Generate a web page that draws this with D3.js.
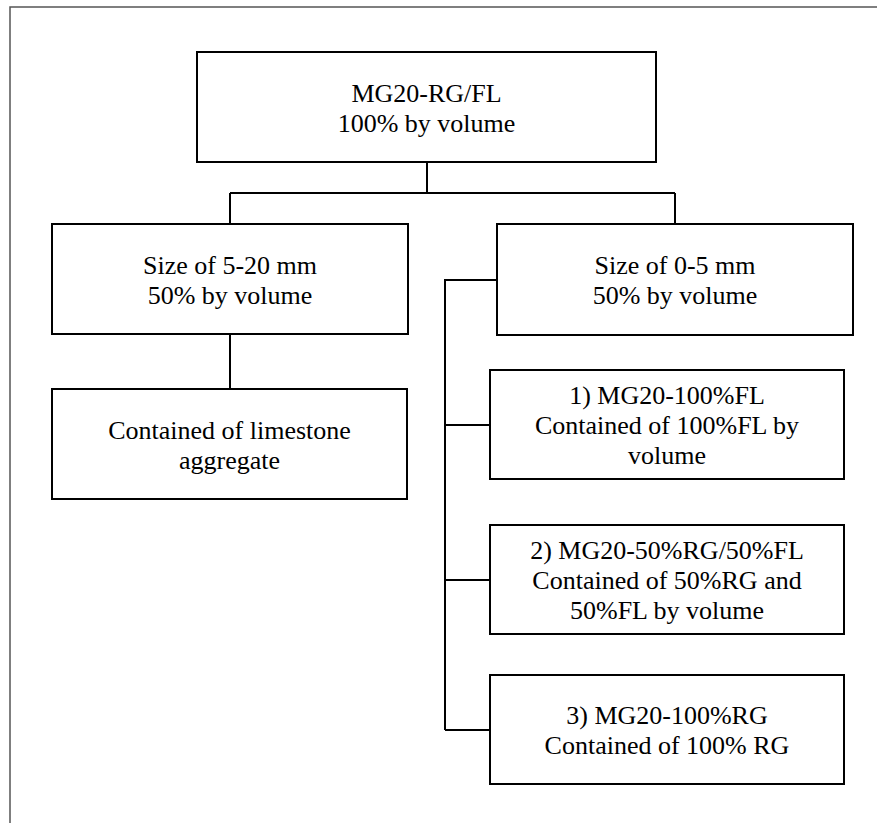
<!DOCTYPE html>
<html>
<head>
<meta charset="utf-8">
<script src="https://cdn.jsdelivr.net/npm/d3@7"></script>
<style>
  html, body { margin: 0; padding: 0; background: #fff; }
  svg { display: block; }
</style>
</head>
<body>
<script>
// ---- Data (labels only) ----
const rootLabel = ["MG20-RG/FL", "100% by volume"];
const sizeFractions = [
  ["Size of 5-20 mm", "50% by volume"],
  ["Size of 0-5 mm", "50% by volume"]
];
const coarseContents = [
  ["Contained of limestone", "aggregate"]
];
const fineMixes = [
  ["1) MG20-100%FL", "Contained of 100%FL by", "volume"],
  ["2) MG20-50%RG/50%FL", "Contained of 50%RG and", "50%FL by volume"],
  ["3) MG20-100%RG", "Contained of 100% RG"]
];

// ---- Layout ----
const W = 877, H = 823;
const svg = d3.select("body").append("svg").attr("width", W).attr("height", H);

// outer frame (extends beyond right/bottom edges as in the reference)
svg.append("rect")
  .attr("x", 10).attr("y", 7).attr("width", 900).attr("height", 900)
  .attr("fill", "none").attr("stroke", "#555").attr("stroke-width", 1.5);

const boxH = 110;
const lineH = 30;
const stroke = "#000";

const nodes = [];
nodes.push({ x: 197, y: 52, w: 459, h: boxH, lines: rootLabel });
const sizeX = d3.scaleOrdinal().domain([0, 1]).range([52, 497]);
sizeFractions.forEach((l, i) => nodes.push({ x: sizeX(i), y: 224, w: 356, h: boxH + (i ? 1 : 0), lines: l, key: "size" + i }));
coarseContents.forEach(l => nodes.push({ x: 52, y: 389, w: 355, h: boxH, lines: l, key: "coarse" }));
const fineY = d3.scaleOrdinal().domain([0, 1, 2]).range([370, 525, 675]);
fineMixes.forEach((l, i) => nodes.push({ x: 490, y: fineY(i), w: 354, h: boxH - 1, lines: l, key: "fine" + i }));

const g = svg.append("g");

// connectors
const conn = [];
const root = nodes[0];
const s0 = nodes[1], s1 = nodes[2], c0 = nodes[3];
const rootCx = 427, busY = 193;
conn.push([[rootCx, root.y + root.h], [rootCx, busY]]);
conn.push([[230, busY], [675, busY]]);
conn.push([[230, busY], [230, s0.y]]);
conn.push([[675, busY], [675, s1.y]]);
conn.push([[230, s0.y + s0.h], [230, c0.y]]);
const bracketX = 445;
const s1mid = 280;
const fineMids = fineMixes.map((_, i) => fineY(i) + Math.round((boxH - 1) / 2));
conn.push([[s1.x, s1mid], [bracketX, s1mid], [bracketX, fineMids[fineMids.length - 1]]]);
fineMids.forEach(m => conn.push([[bracketX, m], [490, m]]));

const line = d3.line();
g.selectAll("path.conn").data(conn).join("path")
  .attr("class", "conn")
  .attr("d", d => line(d))
  .attr("fill", "none").attr("stroke", stroke).attr("stroke-width", 2);

// boxes
const nb = g.selectAll("g.node").data(nodes).join("g").attr("class", "node");
nb.append("rect")
  .attr("x", d => d.x).attr("y", d => d.y)
  .attr("width", d => d.w).attr("height", d => d.h)
  .attr("fill", "#fff").attr("stroke", stroke).attr("stroke-width", 2);

nb.each(function(d) {
  const cx = d.x + d.w / 2;
  const cy = d.y + d.h / 2;
  const n = d.lines.length;
  const first = cy - (n - 1) * lineH / 2 + 9.5;
  const t = d3.select(this).append("text")
    .attr("text-anchor", "middle")
    .attr("font-family", "Liberation Serif")
    .attr("font-size", 26)
    .attr("fill", "#000");
  d.lines.forEach((s, i) => {
    t.append("tspan").attr("x", cx).attr("y", first + i * lineH).text(s);
  });
});
</script>
</body>
</html>
